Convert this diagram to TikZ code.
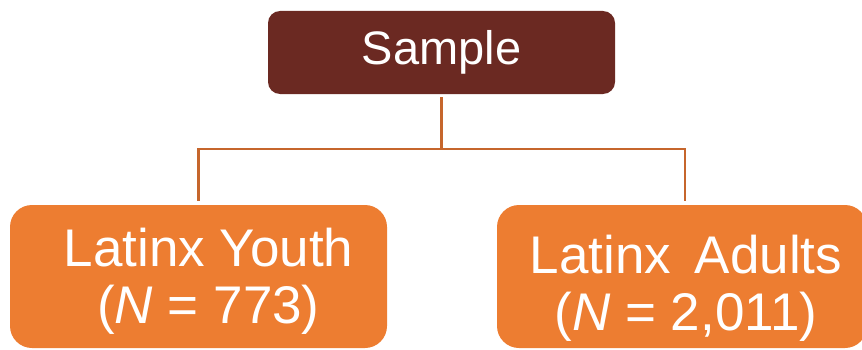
\documentclass[tikz,border=0pt]{standalone}
\usepackage{fontspec}
\setmainfont{Liberation Sans}
\usepackage{tikz}
\usetikzlibrary{positioning}
\definecolor{brownbox}{HTML}{6B2922}
\definecolor{orangebox}{HTML}{ED7D31}
\definecolor{linkline}{HTML}{C6662C}
\tikzset{
	topbox/.style={fill=brownbox, rounded corners=12pt, minimum width=347pt, minimum height=83pt, inner sep=0pt},
	groupbox/.style={fill=orangebox, rounded corners=22pt, minimum width=377pt, minimum height=143pt, inner sep=0pt},
	boxtext/.style={text=white, align=center, font=\fontsize{53}{57}\selectfont},
	link/.style={draw=linkline, line width=2.5pt}
}

\begin{document}
\begin{tikzpicture}[x=1pt,y=1pt]
		\useasboundingbox(0,0) rectangle (862,349);
		\node[topbox, text=white, font=\fontsize{47}{50}\selectfont](sample) at(441.5,296.5){Sample};
		\node[groupbox](youth) at(198.5,72.5){};
		\node[groupbox, minimum width=370pt](adults) at(682,72.5){};
		\node[boxtext](youthtxt) at([xshift=10pt,yshift=-5pt]youth.center){Latinx Youth\\(\textit{N} = 773)};
		\node[boxtext](adultstxt) at([xshift=4pt,yshift=-12pt]adults.center){Latinx\, Adults\\(\textit{N} = 2,011)};
		\coordinate(split) at(441.5,200);
		\draw[link]([yshift=-3pt]sample.south)--(split);
		\draw[link]([yshift=4pt]youth.north)|-(split)-|([xshift=3pt,yshift=4pt]adults.north);
	\end{tikzpicture}
\end{document}
